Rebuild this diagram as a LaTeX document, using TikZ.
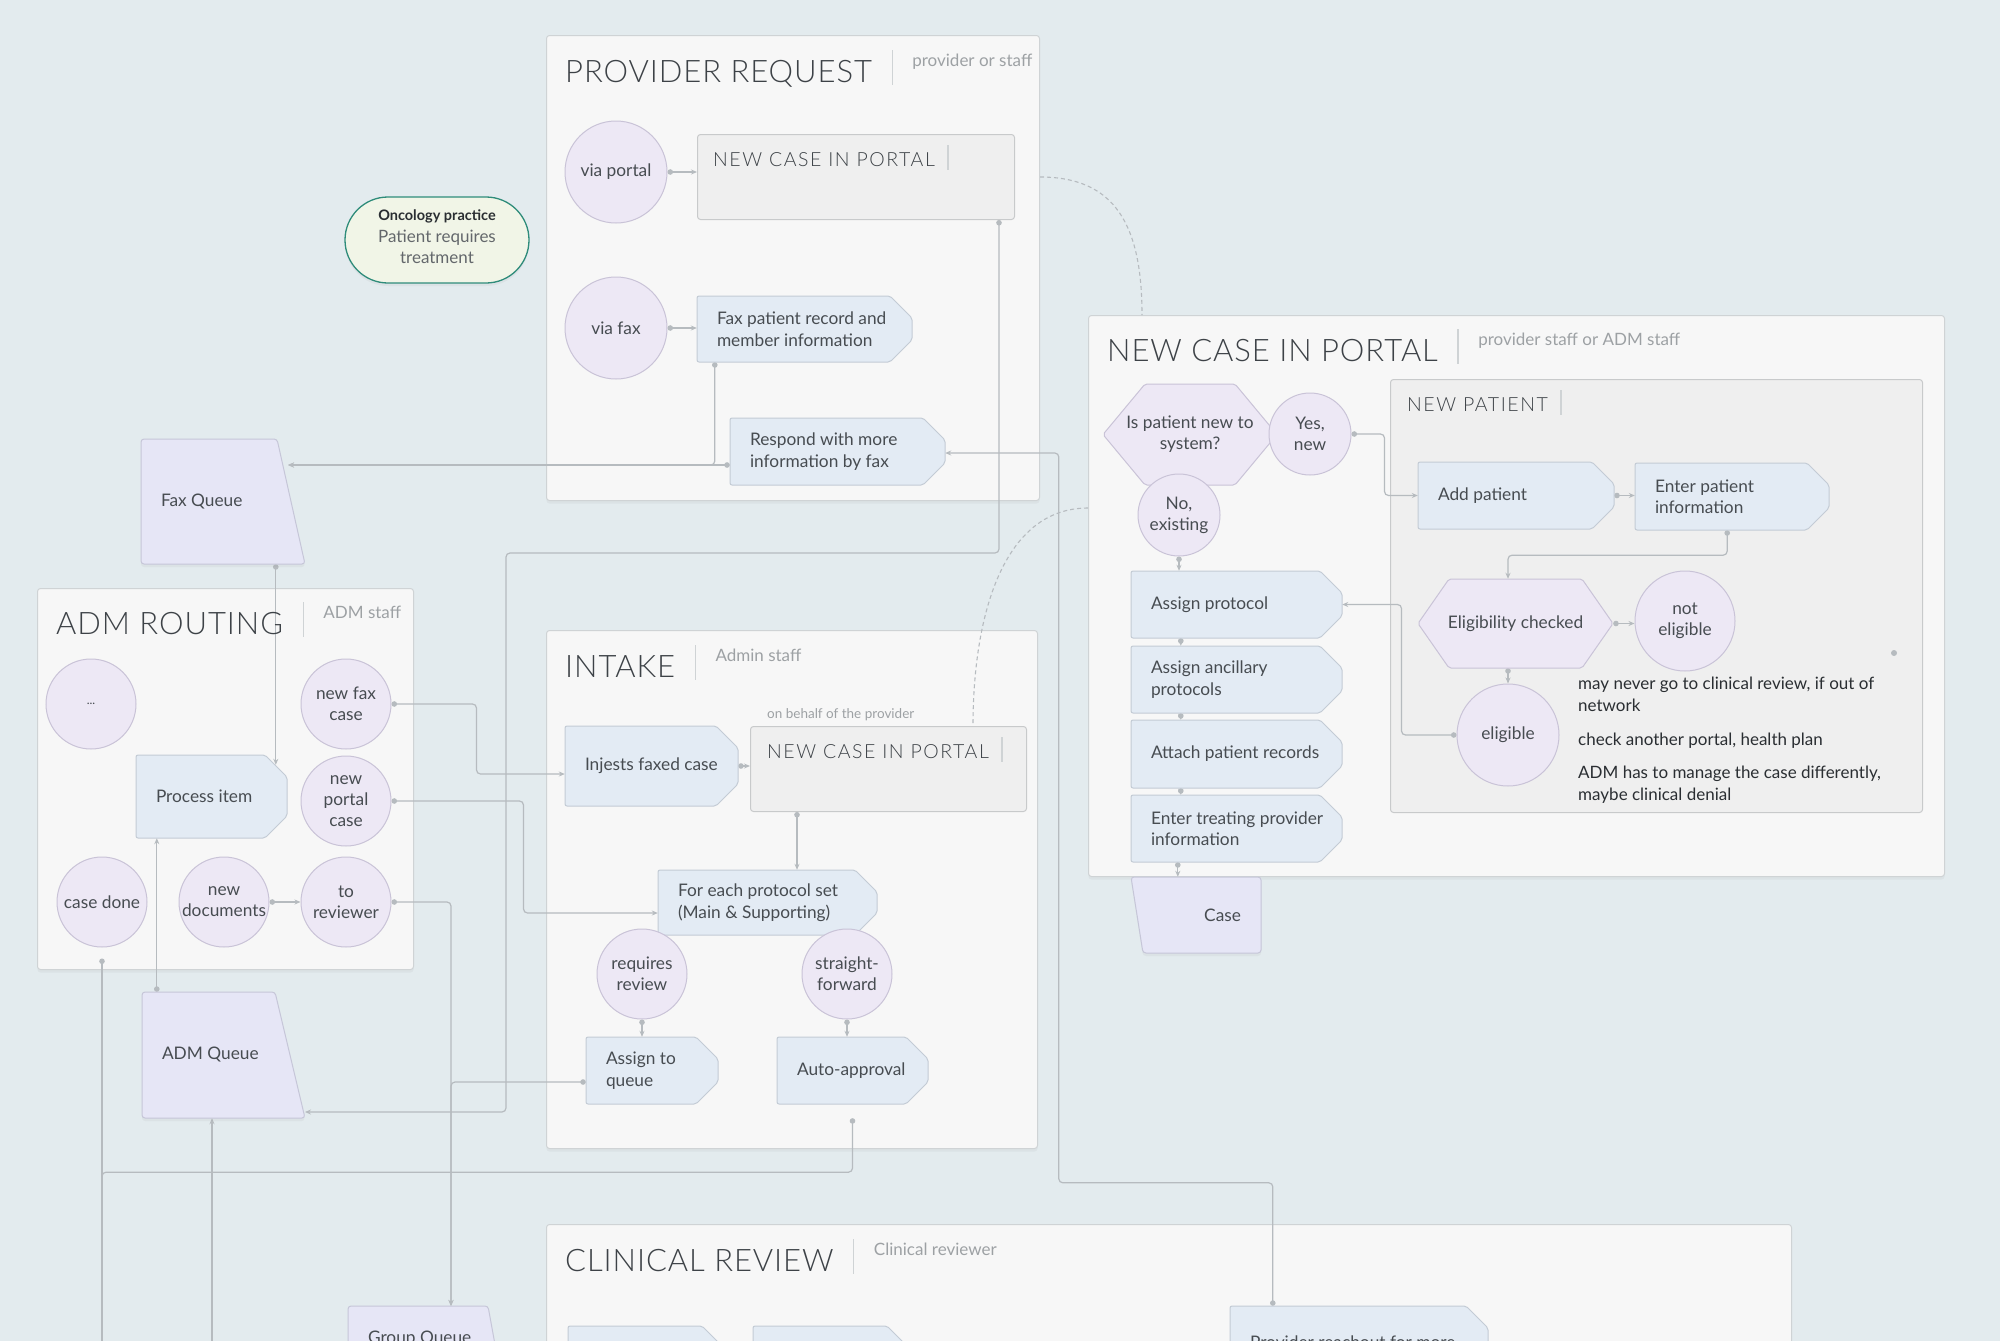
\documentclass[tikz,border=0pt]{standalone}
\usepackage{fontspec}
\setmainfont{Lato}
\newfontfamily\lightfont{Lato Light}[LetterSpace=3]
\newfontfamily\lightwide{Lato Light}[LetterSpace=8]
\usetikzlibrary{arrows.meta,shadows}
\definecolor{bgcol}{HTML}{E3EBEE}
\definecolor{contfill}{HTML}{F7F7F7}
\definecolor{contdraw}{HTML}{CFD3D5}
\definecolor{innfill}{HTML}{EFEFEF}
\definecolor{inndraw}{HTML}{C8CACB}
\definecolor{procfill}{HTML}{E3EBF4}
\definecolor{procdraw}{HTML}{C3CBD5}
\definecolor{lavfill}{HTML}{EDE8F5}
\definecolor{lavdraw}{HTML}{C9C3D7}
\definecolor{qfill}{HTML}{E6E6F6}
\definecolor{qdraw}{HTML}{C6C6D8}
\definecolor{lncol}{HTML}{B6BBBF}
\definecolor{txtcol}{HTML}{474C51}
\definecolor{titlecol}{HTML}{3D4247}
\definecolor{subcol}{HTML}{9DA1A4}
\definecolor{notecol}{HTML}{2A2E32}
\definecolor{oncfill}{HTML}{F1F5E7}
\definecolor{oncdraw}{HTML}{2F8C7A}
\pgfdeclarelayer{bg}\pgfdeclarelayer{conn}\pgfsetlayers{bg,conn,main}

% container / inner box: name, x1, y1, x2, y2, style
\newcommand\contbox[6]{%
  \pgfmathsetmacro\bxw{#4-#2}\pgfmathsetmacro\bxh{#5-#3}%
  \node[#6, minimum width=\bxw pt, minimum height=\bxh pt, inner sep=0pt, anchor=north west] (#1) at (#2,#3) {};}
% process box with chamfered right side: name, x1, y1, x2, y2, text
\newcommand\procbox[6]{%
  \pgfmathsetmacro\bxw{#4-#2}\pgfmathsetmacro\bxh{#5-#3}%
  \filldraw[pshape] (#2,#3) -- ({#4-22},#3) -- (#4,{#3+22}) -- (#4,{#5-22}) -- ({#4-22},#5) -- (#2,#5) -- cycle;
  \node[boxnode, minimum width=\bxw pt, minimum height=\bxh pt] (#1) at ({(#2+#4)/2},{(#3+#5)/2}) {};
  \node[ptext, anchor=west] (#1-t) at ([xshift=20pt]#1.west) {#6};}
% hexagon: name, x1, x2, inset, y1, y2, text
\newcommand\hexbox[7]{%
  \pgfmathsetmacro\bxw{#3-#2}\pgfmathsetmacro\bxh{#6-#5}%
  \filldraw[lshape] (#2,{(#5+#6)/2}) -- ({#2+#4},#5) -- ({#3-#4},#5) -- (#3,{(#5+#6)/2}) -- ({#3-#4},#6) -- ({#2+#4},#6) -- cycle;
  \node[boxnode, minimum width=\bxw pt, minimum height=\bxh pt] (#1) at ({(#2+#3)/2},{(#5+#6)/2}) {};
  \node[ctext] (#1-t) at (#1.center) {#7};}
% queue: name, x1, y1, x2, y2, inset, text
\newcommand\queuebox[7]{%
  \pgfmathsetmacro\bxw{#4-#2}\pgfmathsetmacro\bxh{#5-#3}%
  \filldraw[qshape] (#2,#3) -- ({#4-#6},#3) -- (#4,#5) -- (#2,#5) -- cycle;
  \node[boxnode, minimum width=\bxw pt, minimum height=\bxh pt] (#1) at ({(#2+#4)/2},{(#3+#5)/2}) {};
  \node[ptext, anchor=west] (#1-t) at ([xshift=20pt]#1.west) {#7};}
% titles: name, x, y, title, subtitle
\newcommand\boxtitle[5]{%
  \node[bigtitle, anchor=base west] (#1) at (#2,#3) {#4};
  \draw[sepl] ([xshift=20pt,yshift=32pt]#1.base east) -- ++(0,35);
  \node[subt, anchor=base west] (#1-s) at ([xshift=40pt,yshift=16pt]#1.base east) {#5};}
\newcommand\innertitle[4]{%
  \node[midtitle, anchor=base west] (#1) at (#2,#3) {#4};
  \draw[sepl] ([xshift=13pt,yshift=21pt]#1.base east) -- ++(0,25);}

\begin{document}
\begin{tikzpicture}[x=1pt,y=-1pt,
  container/.style={fill=contfill, draw=contdraw, line width=1pt, rounded corners=3pt,
     drop shadow={shadow xshift=0pt, shadow yshift=-3pt, opacity=0.08}},
  innerbox/.style={fill=innfill, draw=inndraw, line width=1pt, rounded corners=3pt},
  pshape/.style={fill=procfill, draw=procdraw, line width=1pt, rounded corners=2pt},
  lshape/.style={fill=lavfill, draw=lavdraw, line width=1pt, rounded corners=2pt},
  qshape/.style={fill=qfill, draw=qdraw, line width=1pt, rounded corners=3pt,
     drop shadow={shadow xshift=0pt, shadow yshift=-3pt, opacity=0.08}},
  boxnode/.style={inner sep=0pt, draw=none, fill=none},
  ptext/.style={inner sep=0pt, align=left, text=txtcol, font=\fontsize{17.3}{21.5}\selectfont},
  ctext/.style={inner sep=0pt, align=center, text=txtcol, font=\fontsize{17.3}{21}\selectfont},
  circ/.style={circle, fill=lavfill, draw=lavdraw, line width=1pt, ctext},
  bigtitle/.style={inner sep=0pt, text=titlecol, font=\lightfont\fontsize{31}{31}\selectfont},
  midtitle/.style={inner sep=0pt, text=titlecol, font=\lightwide\fontsize{19.5}{19.5}\selectfont},
  subt/.style={inner sep=0pt, text=subcol, font=\fontsize{17}{17}\selectfont},
  note/.style={inner sep=0pt, text=notecol, font=\fontsize{17}{21}\selectfont},
  sepl/.style={draw=contdraw, line width=1.2pt},
  conn/.style={draw=lncol, line width=1.2pt, rounded corners=4pt,
     {Circle[length=5.5pt]}-{Stealth[length=6pt,width=5pt]}},
  connopen/.style={draw=lncol, line width=1.2pt, rounded corners=4pt, {Circle[length=5.5pt]}-},
  connin/.style={draw=lncol, line width=1.2pt, rounded corners=4pt, -{Stealth[length=6pt,width=5pt]}},
  dashc/.style={draw=lncol, line width=1.1pt, dash pattern=on 4pt off 3pt}
]
\useasboundingbox (0,0) rectangle (2000,1341);

% ---------- background and containers ----------
\begin{pgfonlayer}{bg}
\fill[bgcol] (0,0) rectangle (2000,1341);
\contbox{prov}{546}{35}{1039}{500}{container}
\contbox{bigport}{1088}{315}{1944}{876}{container}
\contbox{admr}{37}{588}{413}{969}{container}
\contbox{intake}{546}{630}{1037}{1148}{container}
\contbox{clin}{546}{1224}{1791}{1420}{container}
\contbox{pinner}{697}{134}{1014}{219}{innerbox}
\contbox{iinner}{750}{726}{1026}{811}{innerbox}
\contbox{newpat}{1390}{379}{1922}{812}{innerbox}
\end{pgfonlayer}

% ---------- titles ----------
\boxtitle{tprov}{565}{82}{PROVIDER REQUEST}{provider or staff}
\boxtitle{tport}{1107}{361}{NEW CASE IN PORTAL}{provider staff or ADM staff}
\boxtitle{tadm}{56}{634}{ADM ROUTING}{ADM staff}
\boxtitle{tint}{565}{677}{INTAKE}{Admin staff}
\boxtitle{tclin}{565}{1271}{CLINICAL REVIEW}{Clinical reviewer}
\innertitle{tpin}{713}{166}{NEW CASE IN PORTAL}
\innertitle{tiin}{767}{758}{NEW CASE IN PORTAL}
\innertitle{tnp}{1407}{411}{NEW PATIENT}
\node[subt, font=\fontsize{13.5}{13.5}\selectfont, anchor=base west] (behalf) at (767,718) {on behalf of the provider};

% ---------- oncology ----------
\node[fill=oncfill, draw=oncdraw, line width=1.3pt, rounded corners=43pt, minimum width=184pt, minimum height=86pt,
  drop shadow={shadow xshift=0pt, shadow yshift=-3pt, opacity=0.08}] (onc) at (437,240) {};
\node[ctext, text=txtcol!85!white, font=\fontsize{17}{21.5}\selectfont] (onc-t) at ([yshift=3pt]onc.center)
  {{\fontsize{14.5}{21.5}\selectfont\bfseries\color{notecol}Oncology practice}\\Patient requires\\treatment};

% ---------- process boxes ----------
\procbox{faxrec}{697}{296}{912}{362}{Fax patient record and\\member information}
\procbox{respond}{730}{418}{945}{485}{Respond with more\\information by fax}
\procbox{procitem}{136}{755}{287}{838}{Process item}
\procbox{injests}{565}{726}{738}{806}{Injests faxed case}
\procbox{foreach}{658}{870}{877}{935}{For each protocol set\\(Main \& Supporting)}
\procbox{assignq}{586}{1037}{718}{1104}{Assign to\\queue}
\procbox{autoapp}{777}{1037}{928}{1104}{Auto-approval}
\procbox{assignp}{1131}{571}{1342}{638}{Assign protocol}
\procbox{ancil}{1131}{646}{1342}{713}{Assign ancillary\\protocols}
\procbox{attach}{1131}{720}{1342}{788}{Attach patient records}
\procbox{entreat}{1131}{795}{1342}{862}{Enter treating provider\\information}
\procbox{addpat}{1418}{462}{1614}{529}{Add patient}
\procbox{enterpat}{1635}{463}{1829}{530}{Enter patient\\information}
\procbox{cra}{568}{1326}{724}{1420}{}
\procbox{crb}{753}{1326}{909}{1420}{}
\procbox{reach}{1230}{1306}{1488}{1400}{Provider reachout for more\\information}

% ---------- hexagons ----------
\hexbox{isnew}{1103}{1277}{42}{384}{485}{Is patient new to\\system?}
\hexbox{eligchk}{1418}{1613}{31}{579}{668}{Eligibility checked}

% ---------- circles ----------
\node[circ, minimum size=102pt] (vport) at (616,172) {via portal};
\node[circ, minimum size=102pt] (vfax) at (616,328) {via fax};
\node[circ, minimum size=82pt] (yesnew) at (1310,434) {Yes,\\new};
\node[circ, minimum size=82pt] (noex) at (1179,515) {No,\\existing};
\node[circ, minimum size=100pt] (notelig) at (1685,621) {not\\eligible};
\node[circ, minimum size=102pt] (elig) at (1508,735) {eligible};
\node[circ, minimum size=90pt] (dots) at (91,704) {\fontsize{12}{12}\selectfont ...};
\node[circ, minimum size=90pt] (newfax) at (346,704) {new fax\\case};
\node[circ, minimum size=90pt] (newportal) at (346,801) {new\\portal\\case};
\node[circ, minimum size=90pt] (casedone) at (102,902) {case done};
\node[circ, minimum size=90pt] (newdocs) at (224,902) {new\\documents};
\node[circ, minimum size=90pt] (torev) at (346,902) {to\\reviewer};
\node[circ, minimum size=90pt] (reqrev) at (642,974) {requires\\review};
\node[circ, minimum size=90pt] (straight) at (847,974) {straight-\\forward};

% ---------- queues ----------
\queuebox{faxq}{141}{439}{305}{564}{28}{Fax Queue}
\queuebox{admq}{142}{992}{305}{1118}{30}{ADM Queue}
\queuebox{groupq}{348}{1306}{500}{1372}{12}{Group Queue}
\filldraw[qshape] (1131,877) -- (1261,877) -- (1261,953) -- (1143,953) -- cycle;
\node[boxnode, minimum width=130pt, minimum height=76pt] (caseq) at (1196,915) {};
\node[ptext, anchor=east, align=right] (caseq-t) at ([xshift=-20pt]caseq.east) {Case};

% ---------- notes ----------
\node[note, anchor=base west] (nA) at (1578,689) {may never go to clinical review, if out of};
\node[note, anchor=base west] (nB) at (1578,711) {network};
\node[note, anchor=base west] (nC) at (1578,745) {check another portal, health plan};
\node[note, anchor=base west] (nD) at (1578,778) {ADM has to manage the case differently,};
\node[note, anchor=base west] (nE) at (1578,800) {maybe clinical denial};
\node[circle, fill=lncol, inner sep=0pt, minimum size=6pt] (stray) at (1894,653) {};

% ---------- free connector ends ----------
\coordinate (faxqR) at (288,465);
\coordinate (admqR) at (305,1112);
\coordinate (gqtop) at (451,1306);
\coordinate (bl1) at (102,1350);
\coordinate (bl2) at (212,1350);

% ---------- connectors ----------
\begin{pgfonlayer}{conn}
\draw[conn] (vport.east) -- (vport.east -| pinner.west);
\draw[conn] (vfax.east) -- (vfax.east -| faxrec.west);
\draw[conn] ([xshift=18pt]faxrec.south west) |- (faxqR);
\draw[conn] ([yshift=-13.5pt]respond.west) -- (faxqR);
\draw[conn] ([xshift=43pt]reach.north west) -- ++(0,-123) -- ++(-214,0) |- ([yshift=-1.5pt]respond.east);
\draw[conn] ([xshift=-16pt]pinner.south east) -- ++(0,333) -- ++(-493,0) |- (admqR);
\draw[conn] (newfax.east) -- ++(85,0) |- ([yshift=-8pt]injests.west);
\draw[conn] (newportal.east) -- ++(132,0) |- ([yshift=-10.5pt]foreach.west);
\draw[conn] (newdocs.east) -- (torev.west);
\draw[conn] (torev.east) -| (gqtop);
\draw[conn] ([yshift=-11.5pt]assignq.west) -| (gqtop);
\draw[conn] (reqrev.south) -- (reqrev.south |- assignq.north);
\draw[conn] (straight.south) -- (straight.south |- autoapp.north);
\draw[connopen] ([yshift=-14pt]autoapp.south) -- ++(0,54) -| (bl1);
\draw[connopen] ([yshift=-11pt]casedone.south) -- (bl1);
\draw[connin] (bl2) -- (bl2 |- admq.south);
\draw[conn] ([xshift=15pt]admq.north west) -- ([xshift=21pt]procitem.south west);
\draw[conn] ([xshift=135pt]faxq.south west) -- ([xshift=140pt,yshift=-10pt]procitem.north west);
\draw[conn] (injests.east) -- (injests.east -| iinner.west);
\draw[conn] ([xshift=47pt]iinner.south west) -- ([xshift=47pt]iinner.south west |- foreach.north);
\draw[conn] (yesnew.east) -- ++(33,0) |- (addpat.west);
\draw[conn] (addpat.east) -- (addpat.east -| enterpat.west);
\draw[conn] ([xshift=-102pt]enterpat.south east) -- ++(0,25) -| (elig.north |- eligchk.north);
\draw[conn] (eligchk.east) -- (eligchk.east -| notelig.west);
\draw[conn] (elig.north |- eligchk.south) -- (elig.north);
\draw[conn] (elig.west) -- ++(-55,0) |- (assignp.east);
\draw[conn] (noex.south) -- (noex.south |- assignp.north);
\draw[conn] ([xshift=50pt]assignp.south west) -- ([xshift=50pt]ancil.north west);
\draw[conn] ([xshift=50pt]ancil.south west) -- ([xshift=50pt]attach.north west);
\draw[conn] ([xshift=50pt]attach.south west) -- ([xshift=50pt]entreat.north west);
\draw[conn] ([xshift=47pt]entreat.south west) -- ([xshift=47pt]caseq.north west);
\draw[dashc] (prov.east |- pinner.east) .. controls +(75,0) and +(0,-90) .. ([xshift=54pt]bigport.north west);
\draw[dashc] ([yshift=-193pt]bigport.north west) .. controls +(-85,0) and +(0,-110) .. ([xshift=223pt]iinner.north west);
\end{pgfonlayer}
\end{tikzpicture}
\end{document}
